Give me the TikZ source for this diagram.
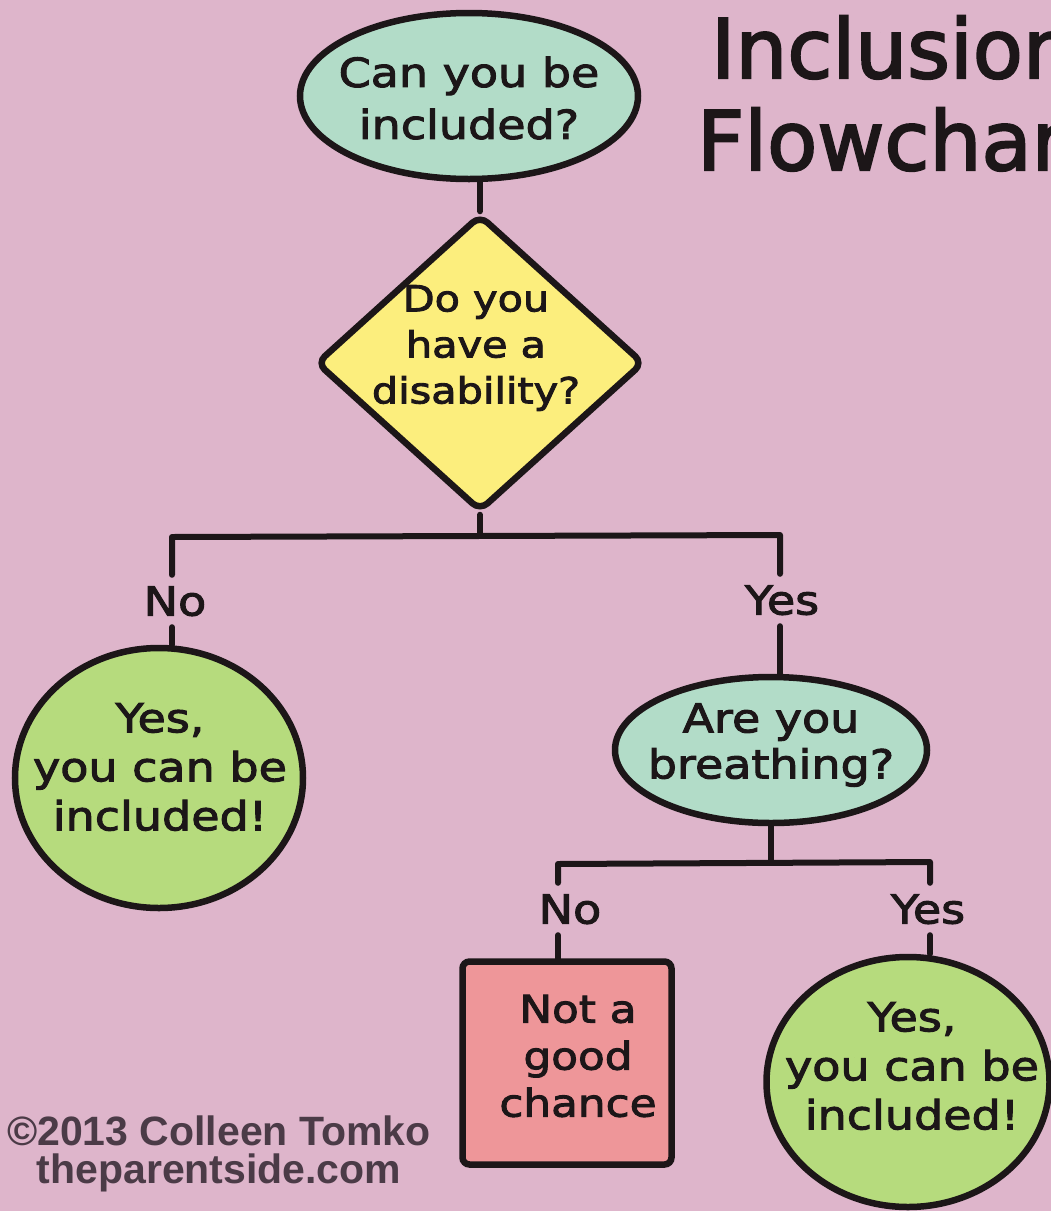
\documentclass[tikz,border=0pt]{standalone}
\usepackage{fontspec}
\setmainfont[FakeStretch=1.15,FakeBold=2.5]{DejaVu Sans}
\newfontfamily\titlefont[FakeBold=2.5]{DejaVu Sans}
\newfontfamily\creditfont{Liberation Sans}
\usetikzlibrary{shapes.geometric}
\definecolor{bg}{HTML}{DEB5CB}
\definecolor{mint}{HTML}{B2DCC8}
\definecolor{yel}{HTML}{FCEE7D}
\definecolor{grn}{HTML}{B6DB7D}
\definecolor{redbox}{HTML}{EE9699}
\definecolor{ink}{HTML}{1C1618}
\definecolor{credit}{HTML}{4B3B47}
\tikzset{
  shapebase/.style={draw=ink, line width=6.5pt, inner sep=0pt},
  oval/.style={shapebase, ellipse, fill=mint},
  circ/.style={shapebase, ellipse, fill=grn},
  dia/.style={shapebase, diamond, fill=yel, rounded corners=10pt},
  rbox/.style={shapebase, rectangle, fill=redbox, rounded corners=7pt},
  txt/.style={inner sep=0pt, align=center, text=ink, font=\fontsize{40}{49}\selectfont},
  lbl/.style={inner sep=0pt, text=ink, font=\fontsize{40}{50}\selectfont, text height=29pt, text depth=0pt, minimum height=52pt},
  conn/.style={draw=ink, line width=6pt, line cap=round, line join=round},
}
\begin{document}
\begin{tikzpicture}[x=1pt,y=-1pt]
\useasboundingbox (0,0) rectangle (1051,1211);
\fill[bg] (0,0) rectangle (1051,1211);
\clip (0,0) rectangle (1051,1211);

% title
\node[anchor=base west, inner sep=0pt, text=ink, font=\titlefont\fontsize{82}{92}\selectfont] (title1) at (711,78) {Inclusion};
\node[anchor=base west, inner sep=0pt, text=ink, font=\titlefont\fontsize{82}{92}\selectfont] (title2) at (697,170) {Flowchart};

% shapes
\node[oval, minimum width=338pt, minimum height=166pt] (q1) at (469,96) {};
\node[txt, font=\fontsize{40}{52}\selectfont] (q1t) at (469,98) {Can you be\\included?};

\node[dia, minimum width=328pt, minimum height=297pt] (d1) at (480,363) {};
\node[txt, font=\fontsize{36}{46}\selectfont] (d1t) at (476,348) {Do you\\have a\\disability?};

\node[circ, minimum width=288pt, minimum height=260pt] (r1) at (159,778) {};
\node[txt] (r1t) at (160,767) {Yes,\\you can be\\included!};

\node[oval, minimum width=312pt, minimum height=146pt] (q2) at (771,750) {};
\node[txt, font=\fontsize{40}{46}\selectfont] (q2t) at (771,745) {Are you\\breathing?};

\node[rbox, minimum width=209pt, minimum height=203pt] (b1) at (567,1063) {};
\node[txt, font=\fontsize{38}{47}\selectfont] (b1t) at (578,1056) {Not a\\good\\chance};

\node[circ, minimum width=283pt, minimum height=250pt] (r2) at (908,1082) {};
\node[txt] (r2t) at (912,1066) {Yes,\\you can be\\included!};

% labels
\node[lbl] (no1) at (175,601) {No};
\node[lbl] (yes1) at (782,600) {Yes};
\node[lbl] (no2) at (570,909) {No};
\node[lbl] (yes2) at (928,909) {Yes};

% junctions
\coordinate (j1) at (481,535);
\coordinate (jl) at (172,537);
\coordinate (jr) at (780,535);
\coordinate (j2) at (772,862);
\coordinate (jl2) at (558,864);
\coordinate (jr2) at (930,862);

% connectors
\draw[conn] (d1.north |- q1.south) -- (d1.north);
\draw[conn] (d1.south) -- (d1.south |- j1);
\draw[conn] (jl |- no1.north) -- (jl) -- (jr) -- (jr |- yes1.north);
\draw[conn] (no1.south -| jl) -- (jl |- r1.north);
\draw[conn] (yes1.south -| jr) -- (jr |- q2.north);
\draw[conn] (q2.south) -- (q2.south |- j2);
\draw[conn] (jl2 |- no2.north) -- (jl2) -- (jr2) -- (jr2 |- yes2.north);
\draw[conn] (no2.south -| jl2) -- (jl2 |- b1.north);
\draw[conn] (yes2.south -| jr2) -- (jr2 |- r2.north);

% credit
\node[anchor=base, inner sep=0pt, text=credit, font=\creditfont\bfseries\fontsize{41}{42}\selectfont] (cr1) at (219,1145) {©2013 Colleen Tomko};
\node[anchor=base, inner sep=0pt, text=credit, font=\creditfont\bfseries\fontsize{41}{42}\selectfont] (cr2) at (219,1183) {theparentside.com};
\end{tikzpicture}
\end{document}
